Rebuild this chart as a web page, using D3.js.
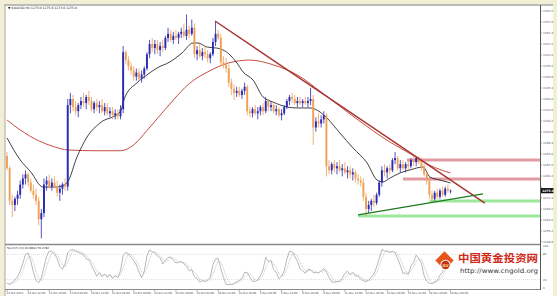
<!DOCTYPE html>
<html><head><meta charset="utf-8">
<script src="https://cdn.jsdelivr.net/npm/d3@7"></script>
<style>html,body{margin:0;padding:0;background:#f3efd6;overflow:hidden}</style>
</head><body><svg id="c" width="557" height="296"></svg>
<script>
// ---------- DATA ----------
const chartTitle = "XAUUSD,H4  1275.0 1275.6 1273.6 1275.0";
const stochTitle = "Stoch(5,3,3) 60.8844 59.2782";
const timeLabels = ["11 Oct 2013","14 Oct 12:00","15 Oct 20:00","17 Oct 04:00","18 Oct 12:00","21 Oct 20:00","23 Oct 04:00","24 Oct 12:00","25 Oct 20:00","29 Oct 04:00","30 Oct 12:00","31 Oct 20:00","4 Nov 04:00","5 Nov 12:00","6 Nov 20:00","8 Nov 04:00","11 Nov 12:00","12 Nov 20:00","14 Nov 04:00","15 Nov 12:00","18 Nov 20:00","20 Nov 04:00"];
const priceTicks = [1363.2,1357.8,1352.4,1347.0,1341.6,1336.2,1330.8,1325.4,1320.0,1314.6,1309.2,1303.8,1298.4,1293.0,1287.6,1282.2,1276.8,1271.4,1266.0,1260.6,1255.2,1249.8];
const stochTicks = [100,80,20,0];
const stochLevels = [80,20];
const lastPrice = 1275.0;

const opens = [1292,1286,1270,1268,1271,1273,1278,1281,1283,1279,
1275,1273,1270,1261,1264,1278,1280,1277,1279,1277,
1274,1276,1278,1277,1317,1320,1316,1314,1317,1319,
1318,1321,1319,1315,1318,1316,1317,1314,1316,1313,
1314,1312,1313,1311.5,1315,1343,1339,1336,1334,1331,
1333,1330,1332,1335,1342,1347,1345,1347,1344,1346,
1345,1350,1352,1349,1351,1350,1352,1353,1351,1354,
1352,1355,1342,1344,1341,1343,1342,1340,1342,1348,
1352,1350,1338,1337,1335,1328,1325,1323,1324,1322,
1324,1326,1314,1313,1315,1313,1314,1316,1314,1319,
1316,1317,1314,1315,1312,1313,1316,1319,1321,1320,
1318,1319,1318,1319,1318,1319,1320,1306,1309,1308,
1310,1312,1287,1285,1288,1286,1287,1285,1286,1284,
1285,1283,1284,1281,1280,1279,1272,1266,1268,1270,
1269,1273,1279,1285,1284,1286,1285,1290,1291,1286,
1288,1286,1288,1287,1290,1289,1291,1289,1287,1283,
1280,1273,1271,1274,1272,1275,1273,1276,1275];
const highs = [1294,1287,1273,1272,1275,1280,1283,1285,1284,1281,
1278,1276,1272,1266,1281,1282,1283,1281,1282,1280,
1278,1279,1281,1320,1323,1322,1319,1318,1321,1323,
1322,1324,1321,1319,1320,1319,1320,1318,1318,1316,
1316,1315,1315,1317,1346,1344,1341,1338,1336,1335,
1335,1334,1336,1343,1349,1350,1349,1349,1348,1349,
1351,1355,1354,1353,1354,1353,1355,1357,1361.5,1356,
1359,1357,1346,1347,1345,1346,1344,1343,1350,1358,
1354,1352,1341,1340,1337,1330,1327,1326,1326,1325,
1328,1327,1316,1316,1317,1316,1317,1318,1321,1320,
1319,1318,1317,1316,1315,1317,1320,1322,1323,1322,
1321,1321,1320,1321,1321,1325.5,1322,1311,1313,1312,
1314,1313,1290,1289,1290,1289,1290,1288,1289,1287,
1287,1286,1285,1283,1282,1281,1274,1270,1271,1273,
1274,1280,1287,1288,1287,1288,1291,1294,1292,1290,
1290,1289,1290,1291,1292,1292,1292,1291,1288,1284,
1281,1275,1275,1276,1276,1277,1277,1278,1275.6];
const lows = [1285,1268,1262,1265,1268,1271,1276,1278,1277,1274,
1271,1268,1258,1251.6,1262,1275,1276,1275,1276,1272,
1270,1273,1275,1275,1313,1314,1312,1311,1315,1316,
1315,1317,1314,1313,1314,1313,1313,1312,1312,1311,
1310,1310,1310,1310,1313,1337,1334,1332,1329,1329,
1329,1328,1330,1334,1340,1343,1342,1342,1341,1343,
1344,1348,1348,1347,1349,1347,1350,1350,1349,1350,
1351,1340,1339,1340,1339,1340,1338,1337.5,1341,1346,
1349,1336,1335,1333,1326,1322,1319.5,1321,1321,1320,
1322,1312,1311,1311,1312,1310,1312,1312,1313,1314,
1314,1313,1312,1311,1309.5,1312,1315,1317,1318,1317,
1316,1317,1316,1317,1316,1317,1297.5,1304,1306,1306,
1308,1282,1283,1283,1284,1283,1284,1282,1283,1281,
1281,1280,1279,1278,1277,1270,1262.5,1264,1265,1267,
1268,1272,1277,1282,1281,1283,1284,1288,1285,1284,
1285,1284,1285,1286,1287,1287,1288,1285,1282,1278,
1271,1269,1270,1271,1271,1272,1272,1274,1273.6];
const closes = [1286,1270,1268,1271,1273,1278,1281,1283,1279,1275,
1273,1270,1261,1264,1278,1280,1277,1279,1277,1274,
1276,1278,1277,1317,1320,1316,1314,1317,1319,1318,
1321,1319,1315,1318,1316,1317,1314,1316,1313,1314,
1312,1313,1311.5,1315,1343,1339,1336,1334,1331,1333,
1330,1332,1335,1342,1347,1345,1347,1344,1346,1345,
1350,1352,1349,1351,1350,1352,1353,1351,1354,1352,
1355,1342,1344,1341,1343,1342,1340,1342,1348,1352,
1350,1338,1337,1335,1328,1325,1323,1324,1322,1324,
1326,1314,1313,1315,1313,1314,1316,1314,1319,1316,
1317,1314,1315,1312,1313,1316,1319,1321,1320,1318,
1319,1318,1319,1318,1319,1320,1306,1309,1308,1310,
1312,1287,1285,1288,1286,1287,1285,1286,1284,1285,
1283,1284,1281,1280,1279,1272,1266,1268,1270,1269,
1273,1279,1285,1284,1286,1285,1290,1291,1286,1288,
1286,1288,1287,1290,1289,1291,1289,1287,1283,1280,
1273,1271,1274,1272,1275,1273,1276,1275,1275];

// moving averages: [bar, price]
const fastMA = [[0,1300.9],[5,1290.1],[9,1284.2],[13.6,1276.8],[19,1276.8],[22.7,1278.8],[26.5,1291.5],[30.3,1301.3],[35.2,1308.2],[42.8,1313.6],[44.7,1321.0],[49.2,1327.9],[53,1331.8],[56.8,1335.2],[61.7,1338.2],[66.3,1342.6],[70.5,1347.5],[72.3,1347.5],[75.8,1345.5],[79.5,1345.0],[81.8,1344.1],[84.5,1341.6],[87.1,1337.7],[89.4,1333.3],[93.2,1329.3],[97,1321.0],[100.8,1318.5],[106,1316.1],[109.8,1315.6],[114.8,1315.6],[118.6,1313.6],[121.2,1310.7],[126.1,1303.3],[131.1,1295.9],[136.4,1288.6],[140.2,1280.2],[142.4,1279.3],[145.1,1281.2],[148.9,1283.7],[152.7,1285.2],[157.6,1286.6],[160.2,1281.7],[164,1280.2],[168,1278.8]];
const slowMA = [[0,1309.7],[5,1304.8],[12,1299.5],[18,1296.5],[23,1295.0],[33,1294.6],[43,1294.6],[48,1297.5],[53,1304.5],[58,1312],[63,1319.5],[69,1327.5],[76,1333.3],[84,1337.7],[92,1339.1],[101,1336.7],[110,1331.8],[119,1323.4],[126,1316.5],[133,1309.7],[145,1298.9],[155,1291.5],[160,1287.6],[168,1283.7]];

// drawn objects: [bar, price]
const resistanceLine = [[78.8,1358.3],[181,1268.9]];
const supportLine = [[133,1263.1],[180.3,1273.4]];
const redZones = [[151.5,1290.1],[150,1280.7]];
const greenZones = [[160,1269.9],[133,1262.6]];

// ---------- DRAW ----------
const svg = d3.select("#c");
const W=557,H=296;
const L=5, R=540, T=6, MB=244, OT=245, OB=289;
const bg = svg.append("g");
bg.append("rect").attr("width",W).attr("height",H).attr("fill","#f3efd6");
bg.append("rect").attr("x",L).attr("y",5).attr("width",553-L).attr("height",H-5).attr("fill","#fff");
bg.append("line").attr("x1",4).attr("x2",553).attr("y1",5).attr("y2",5).attr("stroke","#a8a8a8").attr("stroke-width",1.6);
bg.append("line").attr("x1",L).attr("x2",L).attr("y1",5).attr("y2",H).attr("stroke","#b4b4b4").attr("stroke-width",1.2);

const x = d3.scaleLinear().domain([0,168]).range([7,450.5]);
const y = d3.scaleLinear().domain([1363.2,1249.8]).range([11,242]);
const ys = d3.scaleLinear().domain([0,100]).range([288,246]);

const defs = svg.append("defs");
defs.append("clipPath").attr("id","mc").append("rect").attr("x",L).attr("y",T).attr("width",R-L).attr("height",MB-T);
defs.append("clipPath").attr("id","oc").append("rect").attr("x",L).attr("y",OT).attr("width",R-L).attr("height",OB-OT);

const main = svg.append("g").attr("clip-path","url(#mc)");

// zones
const zoneG = main.append("g");
zoneG.selectAll(".rz").data(redZones).join("line")
  .attr("x1",d=>x(d[0])).attr("x2",R).attr("y1",d=>y(d[1])).attr("y2",d=>y(d[1]))
  .attr("stroke","#e29aa2").attr("stroke-width",3);
zoneG.selectAll(".gz").data(greenZones).join("line")
  .attr("x1",d=>x(d[0])).attr("x2",R).attr("y1",d=>y(d[1])).attr("y2",d=>y(d[1]))
  .attr("stroke","#9ee89e").attr("stroke-width",3);

// MAs
const maLine = d3.line().x(d=>x(d[0])).y(d=>y(d[1])).curve(d3.curveMonotoneX);
main.append("path").attr("d",maLine(slowMA)).attr("fill","none").attr("stroke","#c0392b").attr("stroke-width",0.9);
main.append("path").attr("d",maLine(fastMA)).attr("fill","none").attr("stroke","#111").attr("stroke-width",0.8);

// candles
const idx = d3.range(closes.length);
const bull="#2a2ab4", bear="#f0a055";
const cg = main.append("g");
cg.selectAll(".w").data(idx).join("line")
  .attr("x1",i=>x(i)).attr("x2",i=>x(i)).attr("y1",i=>y(highs[i])).attr("y2",i=>y(lows[i]))
  .attr("stroke",i=>closes[i]>=opens[i]?bull:bear).attr("stroke-width",0.8);
cg.selectAll(".b").data(idx).join("rect")
  .attr("x",i=>x(i)-0.95).attr("width",1.9)
  .attr("y",i=>y(Math.max(opens[i],closes[i])))
  .attr("height",i=>Math.max(0.8,Math.abs(y(opens[i])-y(closes[i]))))
  .attr("fill",i=>closes[i]>=opens[i]?bull:bear);

// trend lines
const tl = d3.line().x(d=>x(d[0])).y(d=>y(d[1]));
main.append("path").attr("d",tl(resistanceLine)).attr("stroke","#a8322e").attr("stroke-width",1.4).attr("fill","none");
main.append("path").attr("d",tl(supportLine)).attr("stroke","#1f7a1f").attr("stroke-width",1.3).attr("fill","none");

// title
svg.append("text").attr("x",8).attr("y",9.2).attr("font-family","DejaVu Sans").attr("font-size",3.1).attr("fill","#222").text("\u25BC "+chartTitle);

// panel separators
svg.append("line").attr("x1",L).attr("x2",R).attr("y1",MB+0.5).attr("y2",MB+0.5).attr("stroke","#8a8a8a").attr("stroke-width",1.3);
svg.append("line").attr("x1",L).attr("x2",R).attr("y1",OB+0.5).attr("y2",OB+0.5).attr("stroke","#8a8a8a").attr("stroke-width",1);
svg.append("line").attr("x1",R+0.5).attr("x2",R+0.5).attr("y1",5).attr("y2",OB+1).attr("stroke","#555").attr("stroke-width",1);

// price axis
const yL = y(lastPrice);
const pa = svg.append("g");
pa.selectAll("line").data(priceTicks).join("line")
  .attr("x1",R).attr("x2",R+2).attr("y1",d=>y(d)).attr("y2",d=>y(d)).attr("stroke","#666").attr("stroke-width",0.6);
pa.selectAll("text").data(priceTicks.filter(d=>Math.abs(y(d)-yL)>4.5)).join("text")
  .attr("x",R+3).attr("y",d=>y(d)+1).attr("font-family","DejaVu Sans").attr("font-size",2.9).attr("fill","#555").text(d=>d.toFixed(1));
pa.append("rect").attr("x",R+1).attr("y",yL-2.6).attr("width",12.5).attr("height",5.2).attr("fill","#111");
pa.append("text").attr("x",R+2.2).attr("y",yL+1.1).attr("font-family","DejaVu Sans").attr("font-size",3).attr("font-weight","bold").attr("fill","#fff").text(lastPrice.toFixed(1));

// stochastic computed from the bars
const K=[],D=[];
for(const i of idx){
  let num=0,den=0;
  for(let j=Math.max(0,i-2);j<=i;j++){
    const a=Math.max(0,j-4);
    const ll=d3.min(lows.slice(a,j+1)), hh=d3.max(highs.slice(a,j+1));
    num+=closes[j]-ll; den+=hh-ll;
  }
  K.push(den>0?100*num/den:50);
}
for(const i of idx){ const a=Math.max(0,i-2); D.push(d3.mean(K.slice(a,i+1))); }
const osc = svg.append("g").attr("clip-path","url(#oc)");
osc.selectAll(".lv").data(stochLevels).join("line")
  .attr("x1",L).attr("x2",R).attr("y1",d=>ys(d)).attr("y2",d=>ys(d))
  .attr("stroke","#c8c8c8").attr("stroke-width",0.6).attr("stroke-dasharray","1,1");
const sl = d3.line().x((d,i)=>x(i)).y(d=>ys(d));
osc.append("path").attr("d",sl(K)).attr("fill","none").attr("stroke","#9a9a9a").attr("stroke-width",0.7);
osc.append("path").attr("d",sl(D)).attr("fill","none").attr("stroke","#b0b0b0").attr("stroke-width",0.7).attr("stroke-dasharray","1,0.8");
svg.append("text").attr("x",7).attr("y",248.8).attr("font-family","DejaVu Sans").attr("font-size",2.8).attr("fill","#333").text(stochTitle);
const sa = svg.append("g");
sa.selectAll("text").data(stochTicks).join("text")
  .attr("x",R+3).attr("y",d=>ys(d)+1).attr("font-family","DejaVu Sans").attr("font-size",2.8).attr("fill","#555").text(d=>d);

// time axis
const ta = svg.append("g");
const tIdx = timeLabels.map((t,k)=>k*8);
ta.selectAll("line").data(tIdx).join("line")
  .attr("x1",i=>x(i)).attr("x2",i=>x(i)).attr("y1",OB+1).attr("y2",OB+3).attr("stroke","#666").attr("stroke-width",0.5);
ta.selectAll("text").data(timeLabels).join("text")
  .attr("x",(t,k)=>x(tIdx[k])-0.5).attr("y",293.8).attr("font-family","DejaVu Sans").attr("font-size",2.7).attr("fill","#444").text(t=>t);

// watermark logo
const lg = svg.append("g");
lg.append("rect").attr("x",438).attr("y",254).attr("width",13).attr("height",13).attr("transform","rotate(45 444.5 260.5)").attr("fill","#e8541c");
lg.append("circle").attr("cx",445.5).attr("cy",265).attr("r",5.2).attr("fill","#fff");
lg.append("circle").attr("cx",445.5).attr("cy",265).attr("r",4.2).attr("fill","#c0301a");
lg.append("text").attr("x",445.5).attr("y",266.8).attr("text-anchor","middle").attr("font-family","DejaVu Sans").attr("font-size",4.2).attr("font-weight","bold").attr("fill","#f8d070").text("AU");
lg.append("text").attr("x",458).attr("y",262).attr("font-family","Noto Sans CJK SC").attr("font-weight",700).attr("font-size",10.5).attr("fill","#cf2a1a").attr("textLength",80).attr("lengthAdjust","spacingAndGlyphs").text("中国黄金投资网");
lg.append("text").attr("x",460).attr("y",272.5).attr("font-family","DejaVu Sans").attr("font-size",6.4).attr("fill","#333").attr("textLength",78).attr("lengthAdjust","spacingAndGlyphs").text("http://www.cngold.org");
</script></body></html>
